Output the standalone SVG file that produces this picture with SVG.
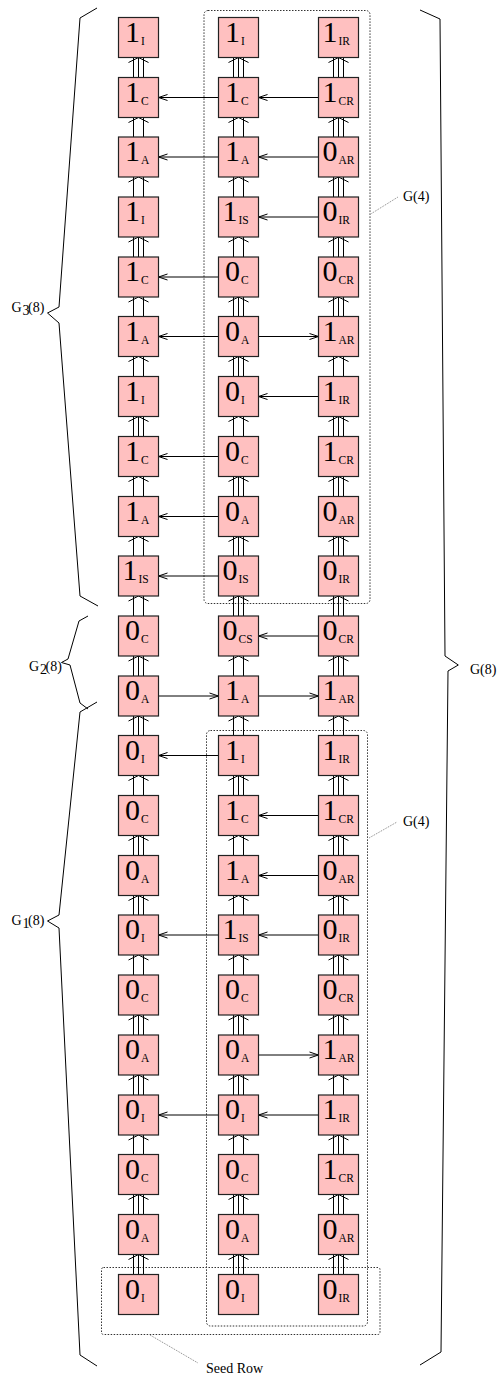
<svg xmlns="http://www.w3.org/2000/svg" xmlns:xlink="http://www.w3.org/1999/xlink" width="502" height="1378" viewBox="0 0 502 1378">
<style>
.t{fill:#ffc0c0;stroke:#222;stroke-width:1.2}
.d{font-family:"Liberation Serif",serif;font-size:30px;fill:#000}
.s{font-family:"Liberation Serif",serif;font-size:11.5px}
.c{stroke:#000;stroke-width:1;fill:none}
.h{stroke:#000;stroke-width:1;fill:none;marker-end:url(#ah)}
.dot{fill:none;stroke:#333;stroke-width:1;stroke-dasharray:1.5 1.5}
.ld{fill:none;stroke:#666;stroke-width:0.8;stroke-dasharray:1 1}
.lb{font-family:"Liberation Serif",serif;font-size:14px;fill:#000}
.br{fill:none;stroke:#000;stroke-width:1}
</style>
<defs>
<marker id="ah" markerWidth="12" markerHeight="8" refX="10" refY="4" orient="auto" markerUnits="userSpaceOnUse"><path d="M1,1 L10,4 L1,7" fill="none" stroke="#000" stroke-width="1"/></marker>
<g id="v3"><path class="c" d="M-5,0V20M0,0V20M5,0V20M-10,5L0,0L10,5"/></g>
<g id="v2"><path class="c" d="M-5,0V20M5,0V20M-10,5L0,0L10,5"/></g>
</defs>

<g id="frames">
<rect class="dot" x="204" y="10.5" width="166" height="593" rx="4"/>
<rect class="dot" x="206.5" y="730.5" width="161" height="595.5" rx="4"/>
<rect class="dot" x="101.5" y="1267.5" width="278.5" height="67" rx="2"/>
<path class="ld" d="M371.5,213.5L398,197"/>
<path class="ld" d="M369,838L397,822"/>
<path class="ld" d="M150,1335L198,1363"/>
<text class="lb" x="403" y="201">G(4)</text>
<text class="lb" x="403" y="826">G(4)</text>
<text class="lb" x="206" y="1372.5">Seed Row</text>
</g>

<g id="braces">
<path class="br" d="M97,8L80,18L59,307L47.5,313L59,323L80,596L98,606"/>
<path class="br" d="M88,616L79,621L68,659L61.5,662.5L70,665L80,703L88,709"/>
<path class="br" d="M97,702L80,712L59,915L47.5,921L59,928L80,1355L97,1366"/>
<path class="br" d="M420,10L440,19L445,656L458.3,665L448,671L441,1352L420,1365"/>
<text class="lb" x="11.5" y="311.5">G</text><text class="lb" font-size="11" x="22.5" y="314.5">3</text><text class="lb" x="28" y="311.5">(8)</text>
<text class="lb" x="29" y="670.5">G</text><text class="lb" font-size="11" x="40" y="673.5">2</text><text class="lb" x="45.5" y="670.5">(8)</text>
<text class="lb" x="11.5" y="925">G</text><text class="lb" font-size="11" x="22.5" y="928">1</text><text class="lb" x="28" y="925">(8)</text>
<text class="lb" x="470" y="674">G(8)</text>
</g>

<g id="connectors">
<use xlink:href="#v3" x="138.5" y="57.5"/><use xlink:href="#v3" x="238.5" y="57.5"/><use xlink:href="#v3" x="338.5" y="57.5"/>
<use xlink:href="#v2" x="138.5" y="117.5"/><use xlink:href="#v2" x="238.5" y="117.5"/><use xlink:href="#v3" x="338.5" y="117.5"/>
<use xlink:href="#v2" x="138.5" y="177"/><use xlink:href="#v2" x="238.5" y="177"/><use xlink:href="#v3" x="338.5" y="177"/>
<use xlink:href="#v3" x="138.5" y="237"/><use xlink:href="#v2" x="238.5" y="237"/><use xlink:href="#v3" x="338.5" y="237"/>
<use xlink:href="#v2" x="138.5" y="297"/><use xlink:href="#v3" x="238.5" y="297"/><use xlink:href="#v3" x="338.5" y="297"/>
<use xlink:href="#v2" x="138.5" y="356.5"/><use xlink:href="#v3" x="238.5" y="356.5"/><use xlink:href="#v2" x="338.5" y="356.5"/>
<use xlink:href="#v3" x="138.5" y="416.5"/><use xlink:href="#v2" x="238.5" y="416.5"/><use xlink:href="#v3" x="338.5" y="416.5"/>
<use xlink:href="#v2" x="138.5" y="476.5"/><use xlink:href="#v3" x="238.5" y="476.5"/><use xlink:href="#v3" x="338.5" y="476.5"/>
<use xlink:href="#v2" x="138.5" y="536.5"/><use xlink:href="#v3" x="238.5" y="536.5"/><use xlink:href="#v3" x="338.5" y="536.5"/>
<use xlink:href="#v2" x="138.5" y="596"/><use xlink:href="#v3" x="238.5" y="596"/><use xlink:href="#v3" x="338.5" y="596"/>
<use xlink:href="#v3" x="138.5" y="656"/><use xlink:href="#v2" x="238.5" y="656"/><use xlink:href="#v3" x="338.5" y="656"/>
<use xlink:href="#v3" x="138.5" y="716"/><use xlink:href="#v2" x="238.5" y="716"/><use xlink:href="#v2" x="338.5" y="716"/>
<use xlink:href="#v2" x="138.5" y="775.5"/><use xlink:href="#v3" x="238.5" y="775.5"/><use xlink:href="#v3" x="338.5" y="775.5"/>
<use xlink:href="#v3" x="138.5" y="835.5"/><use xlink:href="#v2" x="238.5" y="835.5"/><use xlink:href="#v3" x="338.5" y="835.5"/>
<use xlink:href="#v3" x="138.5" y="895.5"/><use xlink:href="#v2" x="238.5" y="895.5"/><use xlink:href="#v3" x="338.5" y="895.5"/>
<use xlink:href="#v2" x="138.5" y="955"/><use xlink:href="#v2" x="238.5" y="955"/><use xlink:href="#v3" x="338.5" y="955"/>
<use xlink:href="#v3" x="138.5" y="1015"/><use xlink:href="#v3" x="238.5" y="1015"/><use xlink:href="#v3" x="338.5" y="1015"/>
<use xlink:href="#v3" x="138.5" y="1075"/><use xlink:href="#v3" x="238.5" y="1075"/><use xlink:href="#v2" x="338.5" y="1075"/>
<use xlink:href="#v2" x="138.5" y="1135"/><use xlink:href="#v2" x="238.5" y="1135"/><use xlink:href="#v3" x="338.5" y="1135"/>
<use xlink:href="#v3" x="138.5" y="1194.5"/><use xlink:href="#v3" x="238.5" y="1194.5"/><use xlink:href="#v3" x="338.5" y="1194.5"/>
<use xlink:href="#v3" x="138.5" y="1254.5"/><use xlink:href="#v3" x="238.5" y="1254.5"/><use xlink:href="#v3" x="338.5" y="1254.5"/>

<line class="h" x1="218.5" y1="97.5" x2="158.5" y2="97.5"/><line class="h" x1="318.5" y1="97.5" x2="258.5" y2="97.5"/>
<line class="h" x1="218.5" y1="157" x2="158.5" y2="157"/><line class="h" x1="318.5" y1="157" x2="258.5" y2="157"/>
<line class="h" x1="318.5" y1="217" x2="258.5" y2="217"/>
<line class="h" x1="218.5" y1="277" x2="158.5" y2="277"/>
<line class="h" x1="218.5" y1="336.5" x2="158.5" y2="336.5"/><line class="h" x1="258.5" y1="336.5" x2="318.5" y2="336.5"/>
<line class="h" x1="318.5" y1="396.5" x2="258.5" y2="396.5"/>
<line class="h" x1="218.5" y1="456.5" x2="158.5" y2="456.5"/>
<line class="h" x1="218.5" y1="516.5" x2="158.5" y2="516.5"/>
<line class="h" x1="218.5" y1="576" x2="158.5" y2="576"/>
<line class="h" x1="318.5" y1="636" x2="258.5" y2="636"/>
<line class="h" x1="158.5" y1="696" x2="218.5" y2="696"/><line class="h" x1="258.5" y1="696" x2="318.5" y2="696"/>
<line class="h" x1="218.5" y1="755.5" x2="158.5" y2="755.5"/>
<line class="h" x1="318.5" y1="815.5" x2="258.5" y2="815.5"/>
<line class="h" x1="318.5" y1="875.5" x2="258.5" y2="875.5"/>
<line class="h" x1="218.5" y1="935" x2="158.5" y2="935"/><line class="h" x1="318.5" y1="935" x2="258.5" y2="935"/>
<line class="h" x1="258.5" y1="1055" x2="318.5" y2="1055"/>
<line class="h" x1="218.5" y1="1115" x2="158.5" y2="1115"/><line class="h" x1="318.5" y1="1115" x2="258.5" y2="1115"/>
</g>

<g id="r0c1"><rect class="t" x="118.5" y="17.5" width="40" height="40"/><text class="d" x="125" y="41.5">1<tspan class="s" x="141" y="44.5">I</tspan></text></g>
<g id="r0c2"><rect class="t" x="218.5" y="17.5" width="40" height="40"/><text class="d" x="225" y="41.5">1<tspan class="s" x="241" y="44.5">I</tspan></text></g>
<g id="r0c3"><rect class="t" x="318.5" y="17.5" width="40" height="40"/><text class="d" x="322.5" y="41.5">1<tspan class="s" x="338.5" y="44.5">IR</tspan></text></g>

<g id="r1c1"><rect class="t" x="118.5" y="77.5" width="40" height="40"/><text class="d" x="125" y="101.5">1<tspan class="s" x="141" y="104.5">C</tspan></text></g>
<g id="r1c2"><rect class="t" x="218.5" y="77.5" width="40" height="40"/><text class="d" x="225" y="101.5">1<tspan class="s" x="241" y="104.5">C</tspan></text></g>
<g id="r1c3"><rect class="t" x="318.5" y="77.5" width="40" height="40"/><text class="d" x="322.5" y="101.5">1<tspan class="s" x="338.5" y="104.5">CR</tspan></text></g>

<g id="r2c1"><rect class="t" x="118.5" y="137" width="40" height="40"/><text class="d" x="125" y="161">1<tspan class="s" x="141" y="164">A</tspan></text></g>
<g id="r2c2"><rect class="t" x="218.5" y="137" width="40" height="40"/><text class="d" x="225" y="161">1<tspan class="s" x="241" y="164">A</tspan></text></g>
<g id="r2c3"><rect class="t" x="318.5" y="137" width="40" height="40"/><text class="d" x="322.5" y="161">0<tspan class="s" x="338.5" y="164">AR</tspan></text></g>

<g id="r3c1"><rect class="t" x="118.5" y="197" width="40" height="40"/><text class="d" x="125" y="221">1<tspan class="s" x="141" y="224">I</tspan></text></g>
<g id="r3c2"><rect class="t" x="218.5" y="197" width="40" height="40"/><text class="d" x="222.5" y="221">1<tspan class="s" x="238.5" y="224">IS</tspan></text></g>
<g id="r3c3"><rect class="t" x="318.5" y="197" width="40" height="40"/><text class="d" x="322.5" y="221">0<tspan class="s" x="338.5" y="224">IR</tspan></text></g>

<g id="r4c1"><rect class="t" x="118.5" y="257" width="40" height="40"/><text class="d" x="125" y="281">1<tspan class="s" x="141" y="284">C</tspan></text></g>
<g id="r4c2"><rect class="t" x="218.5" y="257" width="40" height="40"/><text class="d" x="225" y="281">0<tspan class="s" x="241" y="284">C</tspan></text></g>
<g id="r4c3"><rect class="t" x="318.5" y="257" width="40" height="40"/><text class="d" x="322.5" y="281">0<tspan class="s" x="338.5" y="284">CR</tspan></text></g>

<g id="r5c1"><rect class="t" x="118.5" y="316.5" width="40" height="40"/><text class="d" x="125" y="340.5">1<tspan class="s" x="141" y="343.5">A</tspan></text></g>
<g id="r5c2"><rect class="t" x="218.5" y="316.5" width="40" height="40"/><text class="d" x="225" y="340.5">0<tspan class="s" x="241" y="343.5">A</tspan></text></g>
<g id="r5c3"><rect class="t" x="318.5" y="316.5" width="40" height="40"/><text class="d" x="322.5" y="340.5">1<tspan class="s" x="338.5" y="343.5">AR</tspan></text></g>

<g id="r6c1"><rect class="t" x="118.5" y="376.5" width="40" height="40"/><text class="d" x="125" y="400.5">1<tspan class="s" x="141" y="403.5">I</tspan></text></g>
<g id="r6c2"><rect class="t" x="218.5" y="376.5" width="40" height="40"/><text class="d" x="225" y="400.5">0<tspan class="s" x="241" y="403.5">I</tspan></text></g>
<g id="r6c3"><rect class="t" x="318.5" y="376.5" width="40" height="40"/><text class="d" x="322.5" y="400.5">1<tspan class="s" x="338.5" y="403.5">IR</tspan></text></g>

<g id="r7c1"><rect class="t" x="118.5" y="436.5" width="40" height="40"/><text class="d" x="125" y="460.5">1<tspan class="s" x="141" y="463.5">C</tspan></text></g>
<g id="r7c2"><rect class="t" x="218.5" y="436.5" width="40" height="40"/><text class="d" x="225" y="460.5">0<tspan class="s" x="241" y="463.5">C</tspan></text></g>
<g id="r7c3"><rect class="t" x="318.5" y="436.5" width="40" height="40"/><text class="d" x="322.5" y="460.5">1<tspan class="s" x="338.5" y="463.5">CR</tspan></text></g>

<g id="r8c1"><rect class="t" x="118.5" y="496.5" width="40" height="40"/><text class="d" x="125" y="520.5">1<tspan class="s" x="141" y="523.5">A</tspan></text></g>
<g id="r8c2"><rect class="t" x="218.5" y="496.5" width="40" height="40"/><text class="d" x="225" y="520.5">0<tspan class="s" x="241" y="523.5">A</tspan></text></g>
<g id="r8c3"><rect class="t" x="318.5" y="496.5" width="40" height="40"/><text class="d" x="322.5" y="520.5">0<tspan class="s" x="338.5" y="523.5">AR</tspan></text></g>

<g id="r9c1"><rect class="t" x="118.5" y="556" width="40" height="40"/><text class="d" x="122.5" y="580">1<tspan class="s" x="138.5" y="583">IS</tspan></text></g>
<g id="r9c2"><rect class="t" x="218.5" y="556" width="40" height="40"/><text class="d" x="222.5" y="580">0<tspan class="s" x="238.5" y="583">IS</tspan></text></g>
<g id="r9c3"><rect class="t" x="318.5" y="556" width="40" height="40"/><text class="d" x="322.5" y="580">0<tspan class="s" x="338.5" y="583">IR</tspan></text></g>

<g id="r10c1"><rect class="t" x="118.5" y="616" width="40" height="40"/><text class="d" x="125" y="640">0<tspan class="s" x="141" y="643">C</tspan></text></g>
<g id="r10c2"><rect class="t" x="218.5" y="616" width="40" height="40"/><text class="d" x="222.5" y="640">0<tspan class="s" x="238.5" y="643">CS</tspan></text></g>
<g id="r10c3"><rect class="t" x="318.5" y="616" width="40" height="40"/><text class="d" x="322.5" y="640">0<tspan class="s" x="338.5" y="643">CR</tspan></text></g>

<g id="r11c1"><rect class="t" x="118.5" y="676" width="40" height="40"/><text class="d" x="125" y="700">0<tspan class="s" x="141" y="703">A</tspan></text></g>
<g id="r11c2"><rect class="t" x="218.5" y="676" width="40" height="40"/><text class="d" x="225" y="700">1<tspan class="s" x="241" y="703">A</tspan></text></g>
<g id="r11c3"><rect class="t" x="318.5" y="676" width="40" height="40"/><text class="d" x="322.5" y="700">1<tspan class="s" x="338.5" y="703">AR</tspan></text></g>

<g id="r12c1"><rect class="t" x="118.5" y="735.5" width="40" height="40"/><text class="d" x="125" y="759.5">0<tspan class="s" x="141" y="762.5">I</tspan></text></g>
<g id="r12c2"><rect class="t" x="218.5" y="735.5" width="40" height="40"/><text class="d" x="225" y="759.5">1<tspan class="s" x="241" y="762.5">I</tspan></text></g>
<g id="r12c3"><rect class="t" x="318.5" y="735.5" width="40" height="40"/><text class="d" x="322.5" y="759.5">1<tspan class="s" x="338.5" y="762.5">IR</tspan></text></g>

<g id="r13c1"><rect class="t" x="118.5" y="795.5" width="40" height="40"/><text class="d" x="125" y="819.5">0<tspan class="s" x="141" y="822.5">C</tspan></text></g>
<g id="r13c2"><rect class="t" x="218.5" y="795.5" width="40" height="40"/><text class="d" x="225" y="819.5">1<tspan class="s" x="241" y="822.5">C</tspan></text></g>
<g id="r13c3"><rect class="t" x="318.5" y="795.5" width="40" height="40"/><text class="d" x="322.5" y="819.5">1<tspan class="s" x="338.5" y="822.5">CR</tspan></text></g>

<g id="r14c1"><rect class="t" x="118.5" y="855.5" width="40" height="40"/><text class="d" x="125" y="879.5">0<tspan class="s" x="141" y="882.5">A</tspan></text></g>
<g id="r14c2"><rect class="t" x="218.5" y="855.5" width="40" height="40"/><text class="d" x="225" y="879.5">1<tspan class="s" x="241" y="882.5">A</tspan></text></g>
<g id="r14c3"><rect class="t" x="318.5" y="855.5" width="40" height="40"/><text class="d" x="322.5" y="879.5">0<tspan class="s" x="338.5" y="882.5">AR</tspan></text></g>

<g id="r15c1"><rect class="t" x="118.5" y="915" width="40" height="40"/><text class="d" x="125" y="939">0<tspan class="s" x="141" y="942">I</tspan></text></g>
<g id="r15c2"><rect class="t" x="218.5" y="915" width="40" height="40"/><text class="d" x="222.5" y="939">1<tspan class="s" x="238.5" y="942">IS</tspan></text></g>
<g id="r15c3"><rect class="t" x="318.5" y="915" width="40" height="40"/><text class="d" x="322.5" y="939">0<tspan class="s" x="338.5" y="942">IR</tspan></text></g>

<g id="r16c1"><rect class="t" x="118.5" y="975" width="40" height="40"/><text class="d" x="125" y="999">0<tspan class="s" x="141" y="1002">C</tspan></text></g>
<g id="r16c2"><rect class="t" x="218.5" y="975" width="40" height="40"/><text class="d" x="225" y="999">0<tspan class="s" x="241" y="1002">C</tspan></text></g>
<g id="r16c3"><rect class="t" x="318.5" y="975" width="40" height="40"/><text class="d" x="322.5" y="999">0<tspan class="s" x="338.5" y="1002">CR</tspan></text></g>

<g id="r17c1"><rect class="t" x="118.5" y="1035" width="40" height="40"/><text class="d" x="125" y="1059">0<tspan class="s" x="141" y="1062">A</tspan></text></g>
<g id="r17c2"><rect class="t" x="218.5" y="1035" width="40" height="40"/><text class="d" x="225" y="1059">0<tspan class="s" x="241" y="1062">A</tspan></text></g>
<g id="r17c3"><rect class="t" x="318.5" y="1035" width="40" height="40"/><text class="d" x="322.5" y="1059">1<tspan class="s" x="338.5" y="1062">AR</tspan></text></g>

<g id="r18c1"><rect class="t" x="118.5" y="1095" width="40" height="40"/><text class="d" x="125" y="1119">0<tspan class="s" x="141" y="1122">I</tspan></text></g>
<g id="r18c2"><rect class="t" x="218.5" y="1095" width="40" height="40"/><text class="d" x="225" y="1119">0<tspan class="s" x="241" y="1122">I</tspan></text></g>
<g id="r18c3"><rect class="t" x="318.5" y="1095" width="40" height="40"/><text class="d" x="322.5" y="1119">1<tspan class="s" x="338.5" y="1122">IR</tspan></text></g>

<g id="r19c1"><rect class="t" x="118.5" y="1154.5" width="40" height="40"/><text class="d" x="125" y="1178.5">0<tspan class="s" x="141" y="1181.5">C</tspan></text></g>
<g id="r19c2"><rect class="t" x="218.5" y="1154.5" width="40" height="40"/><text class="d" x="225" y="1178.5">0<tspan class="s" x="241" y="1181.5">C</tspan></text></g>
<g id="r19c3"><rect class="t" x="318.5" y="1154.5" width="40" height="40"/><text class="d" x="322.5" y="1178.5">1<tspan class="s" x="338.5" y="1181.5">CR</tspan></text></g>

<g id="r20c1"><rect class="t" x="118.5" y="1214.5" width="40" height="40"/><text class="d" x="125" y="1238.5">0<tspan class="s" x="141" y="1241.5">A</tspan></text></g>
<g id="r20c2"><rect class="t" x="218.5" y="1214.5" width="40" height="40"/><text class="d" x="225" y="1238.5">0<tspan class="s" x="241" y="1241.5">A</tspan></text></g>
<g id="r20c3"><rect class="t" x="318.5" y="1214.5" width="40" height="40"/><text class="d" x="322.5" y="1238.5">0<tspan class="s" x="338.5" y="1241.5">AR</tspan></text></g>

<g id="r21c1"><rect class="t" x="118.5" y="1274.5" width="40" height="40"/><text class="d" x="125" y="1298.5">0<tspan class="s" x="141" y="1301.5">I</tspan></text></g>
<g id="r21c2"><rect class="t" x="218.5" y="1274.5" width="40" height="40"/><text class="d" x="225" y="1298.5">0<tspan class="s" x="241" y="1301.5">I</tspan></text></g>
<g id="r21c3"><rect class="t" x="318.5" y="1274.5" width="40" height="40"/><text class="d" x="322.5" y="1298.5">0<tspan class="s" x="338.5" y="1301.5">IR</tspan></text></g>
</svg>
